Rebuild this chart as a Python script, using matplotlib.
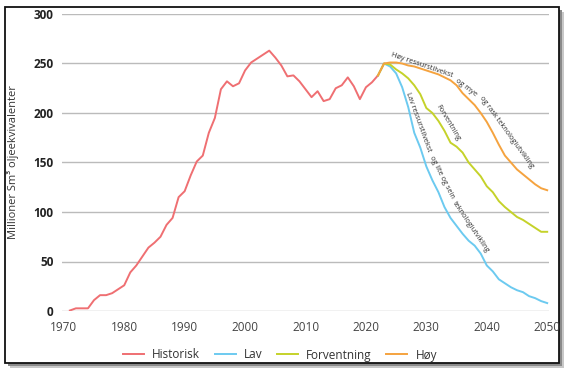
import matplotlib.pyplot as plt
from matplotlib.patches import Rectangle

plt.rcParams['font.family'] = ['Open Sans', 'DejaVu Sans']

# historical production (Mill. Sm3 o.e.)
hist_years = list(range(1971, 2023))
hist_vals = [0.5, 2.7, 2.7, 2.7, 11, 16, 16, 18, 22, 26,
             39, 46, 55, 64, 69, 75, 87, 94, 115, 121,
             137, 151, 157, 180, 195, 224, 232, 227, 230, 243,
             251, 255, 259, 263, 256, 248, 237, 238, 232, 224,
             216, 222, 212, 214, 225, 228, 236, 227, 214, 226,
             231, 238]

# projections 2022-2050
proj_years = list(range(2022, 2051))
lav = [238, 250, 247, 240, 226, 206, 180, 165, 146, 132,
       120, 105, 94, 86, 78, 71, 66, 58, 46, 40,
       32, 28, 24, 21, 19, 15, 13, 10, 8]
forventning = [238, 250, 249, 244, 240, 235, 228, 219, 205, 200,
               192, 182, 170, 166, 160, 150, 143, 136, 126, 120,
               111, 105, 100, 95, 92, 88, 84, 80, 80]
hoy = [238, 250, 251, 251, 250, 248, 247, 245, 243, 241,
       239, 236, 233, 228, 220, 214, 208, 200, 191, 180,
       168, 157, 150, 143, 138, 133, 128, 124, 122]

W, H = 565, 370
fig = plt.figure(figsize=(W / 100, H / 100), dpi=100)
fig.patch.set_facecolor('white')

# framed box with a drop shadow
fig.patches.append(Rectangle((10 / W, 1 - 368 / H), 554 / W, 356 / H,
                             transform=fig.transFigure, facecolor='#c8c8c8',
                             edgecolor='none', zorder=-3))
fig.patches.append(Rectangle((8 / W, 1 - 366 / H), 554 / W, 356 / H,
                             transform=fig.transFigure, facecolor='#8a8a8a',
                             edgecolor='none', zorder=-2))
fig.patches.append(Rectangle((5 / W, 1 - 363 / H), 554 / W, 356 / H,
                             transform=fig.transFigure, facecolor='white',
                             edgecolor='#111111', linewidth=1.3, zorder=-1))

ax = fig.add_axes([62 / W, 1 - 311 / H, 487 / W, 297 / H])
ax.patch.set_alpha(0)

c_hist = '#ef6f72'
c_lav = '#6ccaf0'
c_forv = '#c5d22a'
c_hoy = '#f5a33f'

ax.plot(hist_years, hist_vals, color=c_hist, lw=1.4, label='Historisk', zorder=3)
ax.plot(proj_years, lav, color=c_lav, lw=1.4, label='Lav', zorder=4)
ax.plot(proj_years, forventning, color=c_forv, lw=1.4, label='Forventning', zorder=4)
ax.plot(proj_years, hoy, color=c_hoy, lw=1.4, label='Høy', zorder=4)

# labels that follow the curves
lbl = dict(fontsize=5.3, color='#333333', ha='center', va='center',
           rotation_mode='anchor', zorder=5)
ax.text(2029.3, 248, 'Høy ressurstilvekst', rotation=-19, **lbl)
ax.text(2036.6, 226, 'og mye', rotation=-37, **lbl)
ax.text(2043.2, 181, 'og rask teknologiutvikling', rotation=-54, **lbl)
ax.text(2033.5, 190, 'Forventning', rotation=-59, **lbl)
ax.text(2028.7, 191, 'Lav ressurstilvekst', rotation=-70, **lbl)
ax.text(2032.5, 135, 'og lite og sein', rotation=-63, **lbl)
ax.text(2037.3, 85, 'teknologiutvikling', rotation=-56, **lbl)

ax.set_xlim(1969.7, 2050.3)
ax.set_ylim(0, 300)
ax.set_xticks(range(1970, 2051, 10))
ax.set_yticks(range(0, 301, 50))
ax.grid(axis='y', color='#bbbbbb', lw=1)
ax.set_axisbelow(True)
for s in ax.spines.values():
    s.set_visible(False)
ax.tick_params(axis='both', length=0)
ax.tick_params(axis='x', pad=7, labelsize=8.5, labelcolor='#444444')
ax.tick_params(axis='y', pad=6, labelsize=8.5, labelcolor='#222222')
for t in ax.get_yticklabels():
    t.set_fontweight('bold')

ax.set_ylabel('Millioner Sm³ oljeekvivalenter', fontsize=8, color='#333333')
ax.yaxis.set_label_coords(-0.088, 0.5)

fig.legend(loc='center', bbox_to_anchor=(280 / W, 1 - 355 / H), ncol=4,
           frameon=False, fontsize=8.5, handlelength=1.8, handletextpad=0.7,
           columnspacing=1.2, labelcolor='#333333')

fig.savefig('out.png', dpi=100)
